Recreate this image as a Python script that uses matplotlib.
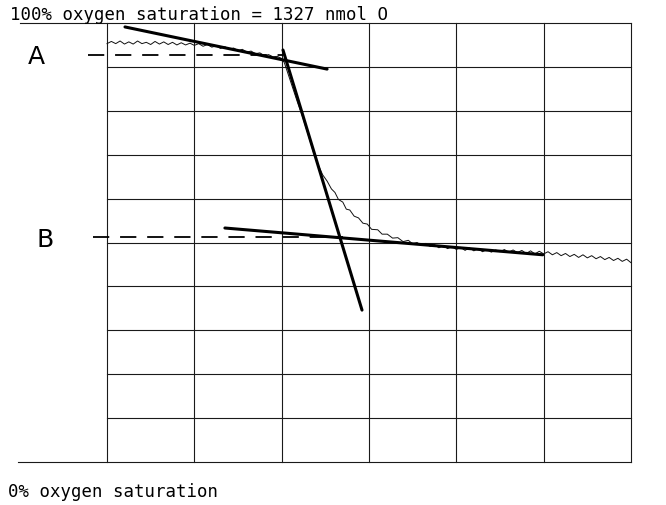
import matplotlib
matplotlib.use('Agg')
import matplotlib.pyplot as plt

# chart recorder trace, x in grid divisions, y in % oxygen saturation
trace_x = [0.00, 0.05, 0.10, 0.15, 0.20, 0.25, 0.30, 0.35, 0.40, 0.45,
           0.50, 0.55, 0.60, 0.65, 0.70, 0.75, 0.80, 0.85, 0.90, 0.95,
           1.00, 1.05, 1.10, 1.15, 1.20, 1.25, 1.30, 1.35, 1.40, 1.45,
           1.50, 1.55, 1.60, 1.65, 1.70, 1.75, 1.80, 1.85, 1.90, 1.95,
           2.00, 2.03, 2.07, 2.12, 2.18, 2.23, 2.30, 2.36, 2.42, 2.47,
           2.52, 2.57, 2.61, 2.65, 2.70, 2.74, 2.78, 2.83, 2.88, 2.93,
           2.98, 3.03, 3.10, 3.15, 3.21, 3.27, 3.33, 3.39, 3.45, 3.50,
           3.55, 3.60, 3.65, 3.70, 3.75, 3.80, 3.85, 3.90, 3.95, 4.00,
           4.05, 4.10, 4.15, 4.20, 4.25, 4.30, 4.35, 4.40, 4.45, 4.50,
           4.55, 4.60, 4.65, 4.70, 4.75, 4.80, 4.85, 4.90, 4.95, 5.00,
           5.05, 5.10, 5.15, 5.20, 5.25, 5.30, 5.35, 5.40, 5.45, 5.50,
           5.55, 5.60, 5.65, 5.70, 5.75, 5.80, 5.85, 5.90, 5.95, 6.00]
trace_y = [95.3, 95.8, 95.3, 95.9, 95.2, 95.7, 95.2, 95.9, 95.3, 95.6,
           95.1, 95.8, 95.2, 95.7, 95.1, 95.6, 95.0, 95.5, 95.0, 95.4,
           94.9, 95.3, 94.7, 95.1, 94.5, 94.8, 94.2, 94.6, 94.0, 94.3,
           93.7, 94.0, 93.4, 93.6, 93.0, 93.2, 92.6, 92.8, 92.3, 92.4,
           91.9, 91.0, 88.6, 85.6, 82.0, 79.2, 74.8, 70.8, 67.6, 65.4,
           64.0, 62.2, 61.4, 59.8, 59.2, 57.6, 57.4, 56.0, 55.6, 54.4,
           54.2, 53.0, 52.9, 51.9, 51.9, 51.0, 51.1, 50.2, 50.5, 49.7,
           50.0, 49.3, 49.8, 49.1, 49.5, 48.8, 49.3, 48.6, 49.1, 48.4,
           48.9, 48.2, 48.8, 48.1, 48.6, 47.9, 48.4, 47.8, 48.3, 47.9,
           48.4, 47.8, 48.3, 47.7, 48.2, 47.5, 48.1, 47.4, 48.0, 47.4,
           47.9, 47.2, 47.7, 47.0, 47.5, 46.8, 47.3, 46.6, 47.2, 46.5,
           47.0, 46.3, 46.8, 46.1, 46.6, 45.9, 46.4, 45.7, 46.2, 45.4]

# hand-drawn tangents (end points)
tan_a_x = [0.206, 2.52]
tan_a_y = [99.1, 89.5]
tan_drop_x = [2.015, 2.92]
tan_drop_y = [93.85, 34.6]
tan_b_x = [1.35, 4.99]
tan_b_y = [53.3, 47.2]

# dashed levels A and B
level_a = 92.7
level_a_x = [-0.22, 2.02]
level_b = 51.3
level_b_x = [-0.16, 2.70]

top_text = '100% oxygen saturation = 1327 nmol O'
bottom_text = '0% oxygen saturation'

fig = plt.figure(figsize=(6.66, 5.06), dpi=100)
ax = fig.add_axes([107/666, 43/506, 524/666, 439/506])
ax.set_xlim(0, 6)
ax.set_ylim(0, 100)
ax.axis('off')

grid_col = '#1a1a1a'
for gx in range(0, 7):
    ax.plot([gx, gx], [0, 100], color=grid_col, lw=0.8, clip_on=False)
for gy in range(10, 100, 10):
    ax.plot([0, 6], [gy, gy], color=grid_col, lw=0.8, clip_on=False)
# top and bottom lines run out to the left margin
ax.plot([-1.0, 6], [100, 100], color=grid_col, lw=0.8, clip_on=False)
ax.plot([-1.02, 6], [0, 0], color=grid_col, lw=0.8, clip_on=False)

ax.plot(trace_x, trace_y, color='#111111', lw=0.7, clip_on=False)

for xs, ys in [(tan_a_x, tan_a_y), (tan_drop_x, tan_drop_y), (tan_b_x, tan_b_y)]:
    ax.plot(xs, ys, color='black', lw=2.2, solid_capstyle='round', clip_on=False)

ax.plot(level_a_x, [level_a, level_a], color='black', lw=1.3,
        dashes=(9, 6), clip_on=False)
ax.plot(level_b_x, [level_b, level_b], color='black', lw=1.3,
        dashes=(9, 6), clip_on=False)

ax.text(-0.81, 92.5, 'A', fontsize=18, ha='center', va='center',
        clip_on=False)
ax.text(-0.71, 50.8, 'B', fontsize=18, ha='center', va='center',
        clip_on=False)

fig.text(10/666, 1 - 20/506, top_text, family='DejaVu Sans Mono',
         fontsize=12.5, va='baseline', ha='left')
fig.text(8/666, 1 - 497/506, bottom_text, family='DejaVu Sans Mono',
         fontsize=12.5, va='baseline', ha='left')

fig.savefig('out.png', dpi=100, facecolor='white')
